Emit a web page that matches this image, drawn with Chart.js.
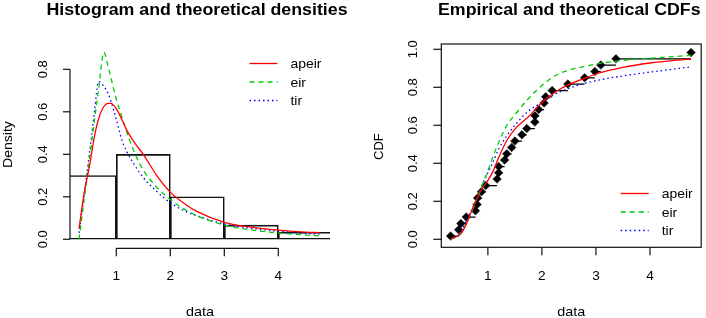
<!DOCTYPE html>
<html><head><meta charset="utf-8">
<script src="https://cdn.jsdelivr.net/npm/chart.js@4.4.1/dist/chart.umd.min.js"></script>
<style>
html,body{margin:0;padding:0;background:#fff;}
#wrap{position:relative;width:706px;height:318px;background:#fff;}
.panel{position:absolute;top:0;width:353px;height:318px;}
</style></head><body>
<div id="wrap">
<div class="panel" style="left:0"><canvas id="c1" width="353" height="318"></canvas></div>
<div class="panel" style="left:353px"><canvas id="c2" width="353" height="318"></canvas></div>
</div>
<script>
// ---------- data ----------
const seriesNames = ['apeir', 'eir', 'tir'];
const seriesColors = ['#FF0000', '#00CD00', '#0000FF'];

const histBreaks = [0, 1, 2, 3, 4, 5];
const histDensity = [0.3, 0.4, 0.2, 0.0667, 0.0333];

const densX     = [0.31, 0.4, 0.5, 0.6, 0.67, 0.77, 0.85, 0.9, 1.0, 1.1, 1.2, 1.35, 1.5, 1.75, 2.0, 2.25, 2.5, 3.0, 3.5, 4.0, 4.5, 4.76];
const densApeir = [0.05, 0.21, 0.34, 0.49, 0.565, 0.625, 0.64, 0.64, 0.615, 0.565, 0.51, 0.45, 0.40, 0.30, 0.222, 0.17, 0.13, 0.08, 0.057, 0.043, 0.034, 0.031];
const densEir   = [0.0, 0.18, 0.37, 0.57, 0.70, 0.88, 0.81, 0.76, 0.66, 0.58, 0.50, 0.40, 0.325, 0.245, 0.187, 0.143, 0.11, 0.067, 0.044, 0.03, 0.02, 0.016];
const densTir   = [0.03, 0.20, 0.40, 0.61, 0.742, 0.72, 0.685, 0.65, 0.565, 0.47, 0.41, 0.345, 0.29, 0.225, 0.172, 0.135, 0.11, 0.072, 0.052, 0.038, 0.028, 0.025];

const ecdfX = [0.31, 0.46, 0.50, 0.60, 0.77, 0.80, 0.81, 0.88, 0.96, 1.17, 1.20, 1.20, 1.31, 1.35, 1.44, 1.50, 1.63, 1.72, 1.87, 1.87, 1.94, 2.04, 2.07, 2.19, 2.48, 2.79, 2.98, 3.09, 3.37, 4.76];
const ecdfY = [0.017, 0.050, 0.083, 0.117, 0.150, 0.183, 0.217, 0.250, 0.283, 0.317, 0.350, 0.383, 0.417, 0.450, 0.483, 0.517, 0.550, 0.583, 0.617, 0.650, 0.683, 0.717, 0.750, 0.783, 0.817, 0.850, 0.883, 0.917, 0.950, 0.983];

const cdfX     = [0.31, 0.5, 0.6, 0.75, 0.9, 1.0, 1.1, 1.2, 1.35, 1.5, 1.75, 2.0, 2.25, 2.5, 2.75, 3.0, 3.5, 4.0, 4.5, 4.76];
const cdfApeir = [0.0, 0.03, 0.08, 0.185, 0.27, 0.31, 0.36, 0.43, 0.52, 0.58, 0.645, 0.72, 0.775, 0.815, 0.843, 0.87, 0.905, 0.928, 0.943, 0.949];
const cdfEir   = [0.0, 0.03, 0.08, 0.18, 0.29, 0.36, 0.44, 0.51, 0.60, 0.655, 0.74, 0.81, 0.862, 0.89, 0.907, 0.922, 0.942, 0.953, 0.963, 0.968];
const cdfTir   = [0.0, 0.04, 0.10, 0.185, 0.29, 0.35, 0.41, 0.475, 0.545, 0.60, 0.675, 0.72, 0.765, 0.795, 0.817, 0.835, 0.86, 0.88, 0.898, 0.908];

const xTicks = [1, 2, 3, 4];
const densYTicks = [0, 0.2, 0.4, 0.6, 0.8];
const cdfYTicks = [0, 0.2, 0.4, 0.6, 0.8, 1.0];

const titles = ['Histogram and theoretical densities', 'Empirical and theoretical CDFs'];
const xTitle = 'data';
const yTitles = ['Density', 'CDF'];

// ---------- helpers ----------
const FONT = '"Liberation Sans", Arial, Helvetica, sans-serif';
const dashes = [[], [5, 4], [1.5, 3]];
function pts(xs, ys) { return xs.map((v, i) => ({x: v, y: ys[i]})); }
function drawText(ctx, s, x, y, o) {
  o = o || {};
  ctx.save();
  ctx.font = (o.bold ? 'bold ' : '') + (o.size || 13) + 'px ' + FONT;
  ctx.fillStyle = o.color || '#000';
  ctx.textAlign = o.align || 'center';
  ctx.textBaseline = o.baseline || 'alphabetic';
  ctx.translate(x, y);
  if (o.rotate) ctx.rotate(o.rotate);
  if (o.sx) ctx.scale(o.sx, 1);
  ctx.fillText(s, 0, 0);
  ctx.restore();
}
function drawLegend(ctx, a) {
  const x0 = a.right - 80.5, x1 = a.right - 52.5, tx = a.right - 39.5;
  return function(y0) {
    seriesNames.forEach((n, i) => {
      const yy = y0 + i * 18.5;
      ctx.save();
      ctx.strokeStyle = seriesColors[i];
      ctx.lineWidth = 1.3;
      ctx.setLineDash(dashes[i]);
      ctx.beginPath(); ctx.moveTo(x0, yy); ctx.lineTo(x1, yy); ctx.stroke();
      ctx.restore();
      drawText(ctx, n, tx, yy + 1, {align: 'left', baseline: 'middle', size: 13.5, sx: 1.03});
    });
  };
}
function curveDataset(xs, ys, i) {
  return {
    type: 'line', label: seriesNames[i], data: pts(xs, ys),
    borderColor: seriesColors[i], borderWidth: 1.3, borderDash: dashes[i],
    pointRadius: 0, fill: false, cubicInterpolationMode: 'monotone', clip: 0, order: 0
  };
}

// ---------- left panel ----------
const histData = histDensity.map((d, i) => ({x: (histBreaks[i] + histBreaks[i + 1]) / 2, y: d}));

const leftPlugin = {
  id: 'leftAxes',
  afterDraw(chart) {
    const {ctx, chartArea: a} = chart;
    const xs = chart.scales.x, ys = chart.scales.y;
    ctx.save();
    ctx.strokeStyle = '#111'; ctx.lineWidth = 1.2;
    const yTop = ys.getPixelForValue(densYTicks[densYTicks.length - 1]);
    const yBot = ys.getPixelForValue(densYTicks[0]);
    ctx.beginPath(); ctx.moveTo(a.left, yBot); ctx.lineTo(a.left, yTop); ctx.stroke();
    densYTicks.forEach(v => {
      const p = ys.getPixelForValue(v);
      ctx.beginPath(); ctx.moveTo(a.left, p); ctx.lineTo(a.left - 7, p); ctx.stroke();
      drawText(ctx, v.toFixed(1), a.left - 26.5, p, {rotate: -Math.PI / 2, baseline: 'middle'});
    });
    const xl = xs.getPixelForValue(xTicks[0]), xr = xs.getPixelForValue(xTicks[xTicks.length - 1]);
    ctx.beginPath(); ctx.moveTo(xl, a.bottom); ctx.lineTo(xr, a.bottom); ctx.stroke();
    xTicks.forEach(v => {
      const p = xs.getPixelForValue(v);
      ctx.beginPath(); ctx.moveTo(p, a.bottom); ctx.lineTo(p, a.bottom + 8); ctx.stroke();
      drawText(ctx, String(v), p, 280, {sx: 1.05});
    });
    ctx.restore();
    const cx = (a.left + a.right) / 2;
    drawText(ctx, titles[0], cx - 3, 15, {bold: true, size: 16, sx: 1.11});
    drawText(ctx, xTitle, cx, 316, {sx: 1.11});
    drawText(ctx, yTitles[0], a.left - 61.5, (a.top + a.bottom) / 2 - 2, {rotate: -Math.PI / 2, baseline: 'middle', sx: 1.08});
    drawLegend(ctx, a)(63.5);
  }
};

new Chart(document.getElementById('c1'), {
  type: 'bar',
  data: {
    datasets: [
      curveDataset(densX, densApeir, 0),
      curveDataset(densX, densEir, 1),
      curveDataset(densX, densTir, 2),
      {
        type: 'bar', label: 'histogram', data: histData,
        backgroundColor: 'rgba(0,0,0,0)', borderColor: '#111', borderWidth: 1.0,
        borderSkipped: false, barThickness: 'flex', barPercentage: 1, categoryPercentage: 1, clip: 0, order: 1
      }
    ]
  },
  options: {
    responsive: false, animation: false, devicePixelRatio: 1,
    layout: {padding: {left: 70, right: 23, top: 44.8, bottom: 69.7}},
    plugins: {legend: {display: false}, tooltip: {enabled: false}, title: {display: false}},
    scales: {
      x: {type: 'linear', min: 0.1426, max: 4.957, offset: false, display: false, ticks: {stepSize: 1}},
      y: {type: 'linear', min: -0.0424, max: 0.9153, display: false}
    }
  },
  plugins: [leftPlugin]
});

// ---------- right panel ----------
const stepData = [];
for (let i = 0; i < ecdfX.length - 1; i++) {
  stepData.push({x: ecdfX[i], y: ecdfY[i]}, {x: ecdfX[i + 1], y: ecdfY[i]}, {x: ecdfX[i + 1], y: null});
}

const rightPlugin = {
  id: 'rightAxes',
  afterDraw(chart) {
    const {ctx, chartArea: a} = chart;
    const xs = chart.scales.x, ys = chart.scales.y;
    ctx.save();
    ctx.strokeStyle = '#111'; ctx.lineWidth = 1.2;
    ctx.strokeRect(a.left, a.top, a.right - a.left, a.bottom - a.top);
    cdfYTicks.forEach(v => {
      const p = ys.getPixelForValue(v);
      ctx.beginPath(); ctx.moveTo(a.left, p); ctx.lineTo(a.left - 8, p); ctx.stroke();
      drawText(ctx, v.toFixed(1), a.left - 28, p, {rotate: -Math.PI / 2, baseline: 'middle'});
    });
    xTicks.forEach(v => {
      const p = xs.getPixelForValue(v);
      ctx.beginPath(); ctx.moveTo(p, a.bottom); ctx.lineTo(p, a.bottom + 8); ctx.stroke();
      drawText(ctx, String(v), p, 280, {sx: 1.05});
    });
    ctx.restore();
    const cx = (a.left + a.right) / 2;
    drawText(ctx, titles[1], cx - 2, 15, {bold: true, size: 16, sx: 1.11});
    drawText(ctx, xTitle, cx, 316, {sx: 1.11});
    drawText(ctx, yTitles[1], a.left - 62, (a.top + a.bottom) / 2 + 1, {rotate: -Math.PI / 2, baseline: 'middle'});
    drawLegend(ctx, a)(193.5);
  }
};

new Chart(document.getElementById('c2'), {
  type: 'line',
  data: {
    datasets: [
      curveDataset(cdfX, cdfApeir, 0),
      curveDataset(cdfX, cdfEir, 1),
      curveDataset(cdfX, cdfTir, 2),
      {
        type: 'line', label: 'ecdf steps', data: stepData, spanGaps: false,
        borderColor: '#000', borderWidth: 1.3, pointRadius: 0, fill: false, clip: 0, order: 2
      },
      {
        type: 'line', label: 'ecdf', data: pts(ecdfX, ecdfY), showLine: false,
        pointStyle: 'rectRot', pointRadius: 4.3, pointBackgroundColor: '#000', pointBorderColor: '#000',
        pointBorderWidth: 0.5, clip: 0, order: 1
      }
    ]
  },
  options: {
    responsive: false, animation: false, devicePixelRatio: 1,
    layout: {padding: {left: 88.3, right: 4, top: 44, bottom: 70.7}},
    plugins: {legend: {display: false}, tooltip: {enabled: false}, title: {display: false}},
    scales: {
      x: {type: 'linear', min: 0.138, max: 4.948, display: false},
      y: {type: 'linear', min: -0.0421, max: 1.0279, display: false}
    }
  },
  plugins: [rightPlugin]
});
</script>
</body></html>
